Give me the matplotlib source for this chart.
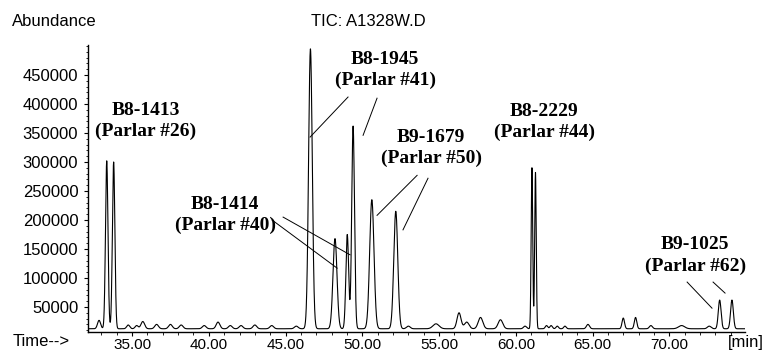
import numpy as np
import matplotlib
import matplotlib.pyplot as plt
from matplotlib.ticker import FixedLocator, MultipleLocator, FormatStrFormatter

matplotlib.use('agg')

# TIC peaks: retention time (min), apex abundance, peak sigma (min)
peak_times = [32.85, 33.35, 33.8, 34.75, 35.3, 35.7, 36.6, 37.5, 38.2, 39.7,
              40.6, 41.4, 42.1, 43.0, 44.1, 45.7, 46.62, 48.22, 49.02, 49.4,
              50.62, 52.18, 53.0, 54.8, 56.3, 56.8, 57.7, 59.0, 60.6, 61.05,
              61.28, 62.0, 62.3, 62.7, 63.2, 64.7, 67.0, 67.8, 68.8, 70.8,
              72.6, 73.28, 74.08]
peak_apex = [27000, 302000, 300000, 19000, 18000, 25000, 20000, 20000, 19000, 18000,
             24000, 18000, 18000, 19000, 18000, 17000, 495000, 168000, 175000, 362000,
             235000, 215000, 17000, 21000, 40000, 24000, 32000, 28000, 17000, 290000,
             282000, 18000, 18000, 17000, 17000, 20000, 31000, 32000, 18000, 18000,
             17000, 62000, 62000]
peak_sigma = [0.1, 0.08, 0.08, 0.1, 0.1, 0.12, 0.12, 0.12, 0.12, 0.12,
              0.12, 0.12, 0.12, 0.12, 0.12, 0.12, 0.12, 0.13, 0.09, 0.09,
              0.14, 0.13, 0.12, 0.2, 0.13, 0.15, 0.15, 0.15, 0.1, 0.05,
              0.05, 0.08, 0.08, 0.08, 0.08, 0.1, 0.08, 0.08, 0.1, 0.2,
              0.12, 0.09, 0.09]
baseline = 12500

x_ticks = [35, 40, 45, 50, 55, 60, 65, 70]
y_ticks = [50000, 100000, 150000, 200000, 250000, 300000, 350000, 400000, 450000]

# compound labels: text, (time, abundance) of the label centre
labels = ['B8-1413\n(Parlar #26)', 'B8-1945\n(Parlar #41)', 'B9-1679\n(Parlar #50)',
          'B8-1414\n(Parlar #40)', 'B8-2229\n(Parlar #44)', 'B9-1025\n(Parlar #62)']
label_pos = [(35.9, 371000), (51.48, 458000), (54.48, 324000),
             (41.06, 208000), (61.84, 369000), (71.68, 139000)]

# pointer lines from labels to peaks
leaders = [((49.07, 412000), (46.6, 343000)),
           ((50.96, 410000), (50.05, 346000)),
           ((53.57, 277000), (50.96, 208000)),
           ((54.28, 272000), (52.65, 183000)),
           ((44.84, 205000), (49.2, 140000)),
           ((44.12, 200000), (48.36, 117000)),
           ((71.16, 93000), (72.78, 48000)),
           ((72.85, 93000), (73.63, 74000))]

t = np.linspace(32.13, 74.93, 8000)
signal = np.full_like(t, baseline, dtype=float)
for rt, apex, s in zip(peak_times, peak_apex, peak_sigma):
    signal += (apex - baseline) * np.exp(-0.5 * ((t - rt) / s) ** 2)

sans = 'Liberation Sans'
serif = 'Liberation Serif'

fig = plt.figure(figsize=(7.66, 3.55), dpi=100)
ax = fig.add_axes([88 / 766, 23 / 355, 657 / 766, 287 / 355])
ax.plot(t, signal, color='black', lw=0.8)

ax.set_xlim(32.13, 74.93)
ax.set_ylim(6900, 501700)
for side in ['top', 'right']:
    ax.spines[side].set_visible(False)
for side in ['left', 'bottom']:
    ax.spines[side].set_linewidth(1.0)

ax.xaxis.set_major_locator(FixedLocator(x_ticks))
ax.xaxis.set_minor_locator(MultipleLocator(1))
ax.xaxis.set_major_formatter(FormatStrFormatter('%.2f'))
ax.yaxis.set_major_locator(FixedLocator(y_ticks))
ax.yaxis.set_minor_locator(MultipleLocator(10000))
ax.tick_params(axis='both', which='major', length=3, width=0.8, direction='out')
ax.tick_params(axis='both', which='minor', length=1.8, width=0.6, direction='out')
ax.tick_params(axis='x', which='major', pad=1.5)
ax.tick_params(axis='y', which='major', pad=4)
for lab in ax.get_xticklabels():
    lab.set_fontfamily(sans)
    lab.set_fontsize(11)
for lab in ax.get_yticklabels():
    lab.set_fontfamily(sans)
    lab.set_fontsize(12)

for text, (lx, ly) in zip(labels, label_pos):
    ax.text(lx, ly, text, ha='center', va='center', fontsize=14,
            fontweight='bold', family=serif, linespacing=1.3)
for (x0, y0), (x1, y1) in leaders:
    ax.plot([x0, x1], [y0, y1], color='black', lw=0.7)

fig.text(12 / 766, 1 - 22 / 355, 'Abundance', ha='left', va='center',
         fontsize=12, family=sans)
fig.text(368 / 766, 1 - 22 / 355, 'TIC: A1328W.D', ha='center', va='center',
         fontsize=12, family=sans)
fig.text(13 / 766, 1 - 342 / 355, 'Time-->', ha='left', va='center',
         fontsize=12, family=sans)
fig.text(764 / 766, 1 - 342 / 355, '[min]', ha='right', va='center',
         fontsize=12, family=sans)

fig.savefig('out.png', dpi=100)
